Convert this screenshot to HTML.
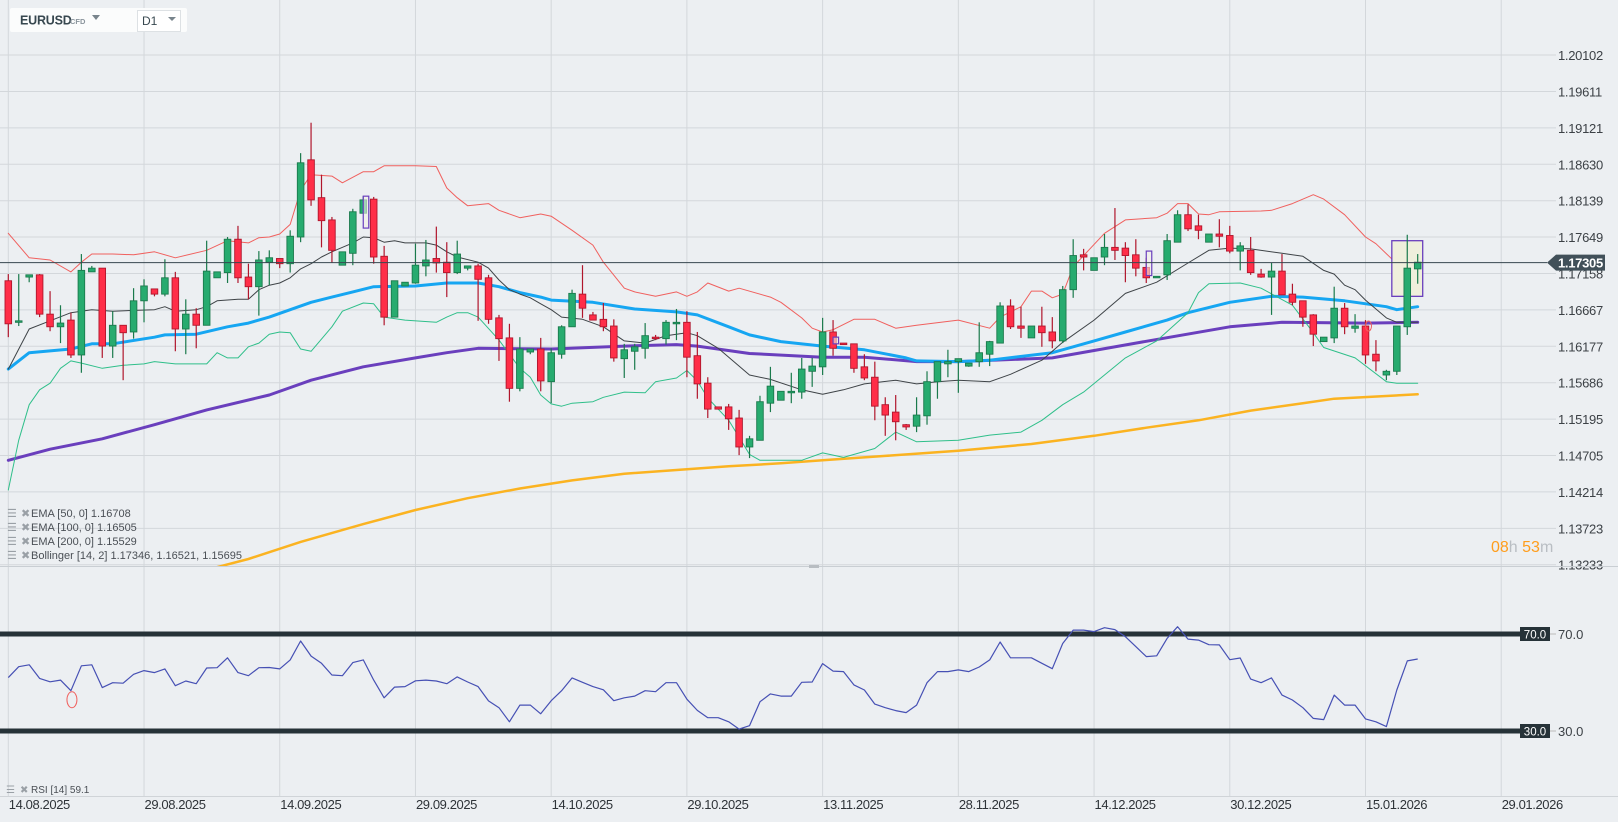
<!DOCTYPE html>
<html><head><meta charset="utf-8"><title>EURUSD D1</title>
<style>
html,body{margin:0;padding:0;background:#eceff2;overflow:hidden}
svg{display:block;font-family:"Liberation Sans",sans-serif}
</style></head>
<body>
<svg id="chart" width="1618" height="822" viewBox="0 0 1618 822" xmlns="http://www.w3.org/2000/svg">
<defs><clipPath id="pclip"><rect x="0" y="0" width="1545" height="566"/></clipPath></defs>
<rect x="0" y="0" width="1618" height="822" fill="#eceff2"/>
<g id="grid"></g>
<g id="price-pane" clip-path="url(#pclip)"></g>
<g id="rsi-pane"></g>
<g id="axes"></g>
<g>
  <rect x="10" y="8" width="177" height="24" rx="2" fill="#fbfcfc"/>
  <text x="20" y="24.5" font-size="12.5" font-weight="bold" fill="#37474f" letter-spacing="-0.2">EURUSD</text>
  <text x="70" y="24" font-size="7.5" font-weight="bold" fill="#8a949c">CFD</text>
  <path d="M92,15 L100,15 L96,20 Z" fill="#78848c"/>
</g>
<g>
  <rect x="137.5" y="10.5" width="43" height="21" fill="#fff" stroke="#dde1e4"/>
  <text x="142" y="25" font-size="12" fill="#37474f">D1</text>
  <path d="M168,17 L176,17 L172,21 Z" fill="#78848c"/>
</g>
<g font-size="11" fill="#4a4f55">
  <g><text x="7" y="517" fill="#9aa0a6" font-size="11">☰</text><text x="21" y="517" fill="#9aa0a6" font-size="11">✖</text><text x="31" y="517">EMA  [50,  0]  1.16708</text></g>
  <g><text x="7" y="531" fill="#9aa0a6" font-size="11">☰</text><text x="21" y="531" fill="#9aa0a6" font-size="11">✖</text><text x="31" y="531">EMA  [100,  0]  1.16505</text></g>
  <g><text x="7" y="545" fill="#9aa0a6" font-size="11">☰</text><text x="21" y="545" fill="#9aa0a6" font-size="11">✖</text><text x="31" y="545">EMA  [200,  0]  1.15529</text></g>
  <g><text x="7" y="559" fill="#9aa0a6" font-size="11">☰</text><text x="21" y="559" fill="#9aa0a6" font-size="11">✖</text><text x="31" y="559">Bollinger   [14,  2]  1.17346,   1.16521,   1.15695</text></g>
  <g><text x="6" y="793" fill="#9aa0a6" font-size="10">☰</text><text x="20" y="793" fill="#9aa0a6" font-size="10">✖</text><text x="31" y="793" font-size="10">RSI  [14]  59.1</text></g>
</g>
<g font-size="16">
  <text x="1491" y="552"><tspan fill="#ff9d1c">08</tspan><tspan fill="#b9bec3">h </tspan><tspan fill="#ff9d1c">53</tspan><tspan fill="#b9bec3">m</tspan></text>
</g>
</svg>
<script>
const candles = [
[1.1706,1.1715,1.1630,1.1648],[1.1650,1.1715,1.1645,1.1652],[1.1711,1.1714,1.1704,1.1714],[1.1714,1.1715,1.1657,1.1661],
[1.1661,1.1692,1.1638,1.1644],[1.1644,1.1673,1.1622,1.1649],[1.1653,1.1663,1.1602,1.1606],[1.1606,1.1742,1.1582,1.1720],
[1.1718,1.1726,1.1718,1.1723],[1.1723,1.1723,1.1602,1.1618],[1.1618,1.1665,1.1602,1.1646],[1.1646,1.1646,1.1572,1.1636],
[1.1637,1.1696,1.1628,1.1679],[1.1679,1.1708,1.1650,1.1699],[1.1695,1.1695,1.1685,1.1688],[1.1688,1.1735,1.1685,1.1710],
[1.1710,1.1718,1.1611,1.1641],[1.1641,1.1681,1.1607,1.1661],[1.1661,1.1669,1.1615,1.1646],[1.1646,1.1760,1.1646,1.1719],
[1.1710,1.1718,1.1710,1.1718],[1.1717,1.1765,1.1703,1.1762],[1.1762,1.1780,1.1703,1.1710],[1.1711,1.1729,1.1681,1.1698],
[1.1698,1.1746,1.1659,1.1734],[1.1731,1.1747,1.1700,1.1737],[1.1736,1.1736,1.1723,1.1729],[1.1729,1.1774,1.1717,1.1766],
[1.1765,1.1878,1.1758,1.1865],[1.1869,1.1919,1.1807,1.1815],[1.1818,1.1849,1.1751,1.1787],[1.1788,1.1792,1.1730,1.1747],
[1.1727,1.1745,1.1727,1.1745],[1.1743,1.1803,1.1727,1.1799],[1.1797,1.1820,1.1797,1.1815],[1.1816,1.1819,1.1729,1.1738],
[1.1739,1.1753,1.1646,1.1657],[1.1657,1.1706,1.1657,1.1706],[1.1699,1.1704,1.1699,1.1704],[1.1703,1.1756,1.1702,1.1727],
[1.1726,1.1761,1.1712,1.1734],[1.1736,1.1779,1.1717,1.1730],[1.1731,1.1758,1.1684,1.1717],[1.1717,1.1760,1.1715,1.1742],
[1.1723,1.1726,1.1720,1.1726],[1.1726,1.1729,1.1652,1.1708],[1.1710,1.1714,1.1648,1.1654],[1.1656,1.1660,1.1598,1.1628],
[1.1629,1.1648,1.1543,1.1561],[1.1561,1.1630,1.1557,1.1614],[1.1610,1.1614,1.1607,1.1614],[1.1614,1.1629,1.1557,1.1571],
[1.1570,1.1615,1.1541,1.1609],[1.1607,1.1646,1.1601,1.1644],[1.1644,1.1694,1.1644,1.1689],[1.1688,1.1727,1.1656,1.1669],
[1.1660,1.1664,1.1653,1.1653],[1.1654,1.1676,1.1638,1.1644],[1.1645,1.1654,1.1597,1.1602],[1.1601,1.1621,1.1575,1.1613],
[1.1611,1.1621,1.1586,1.1617],[1.1615,1.1649,1.1601,1.1632],[1.1630,1.1633,1.1626,1.1628],[1.1628,1.1653,1.1620,1.1650],
[1.1648,1.1668,1.1626,1.1650],[1.1650,1.1665,1.1576,1.1603],[1.1605,1.1637,1.1547,1.1567],[1.1568,1.1576,1.1521,1.1533],
[1.1536,1.1536,1.1533,1.1533],[1.1536,1.1540,1.1505,1.1520],[1.1521,1.1532,1.1471,1.1482],[1.1482,1.1497,1.1467,1.1493],
[1.1491,1.1551,1.1491,1.1543],[1.1541,1.1590,1.1529,1.1564],[1.1545,1.1557,1.1545,1.1557],[1.1555,1.1582,1.1541,1.1557],
[1.1556,1.1602,1.1547,1.1587],[1.1584,1.1602,1.1563,1.1591],[1.1590,1.1656,1.1579,1.1637],[1.1637,1.1653,1.1605,1.1615],
[1.1622,1.1622,1.1620,1.1620],[1.1621,1.1621,1.1582,1.1588],[1.1590,1.1607,1.1572,1.1575],[1.1576,1.1597,1.1518,1.1537],
[1.1539,1.1549,1.1497,1.1525],[1.1529,1.1552,1.1491,1.1516],[1.1512,1.1513,1.1505,1.1509],[1.1510,1.1549,1.1502,1.1525],
[1.1524,1.1584,1.1512,1.1570],[1.1570,1.1597,1.1547,1.1597],[1.1594,1.1613,1.1576,1.1597],[1.1597,1.1601,1.1555,1.1601],
[1.1591,1.1595,1.1590,1.1595],[1.1597,1.1650,1.1590,1.1609],[1.1607,1.1625,1.1591,1.1624],[1.1622,1.1677,1.1622,1.1672],
[1.1672,1.1681,1.1641,1.1644],[1.1645,1.1671,1.1629,1.1642],[1.1629,1.1645,1.1629,1.1645],[1.1645,1.1671,1.1617,1.1636],
[1.1637,1.1657,1.1615,1.1625],[1.1625,1.1699,1.1622,1.1694],[1.1694,1.1762,1.1683,1.1740],[1.1741,1.1749,1.1720,1.1738],
[1.1720,1.1737,1.1720,1.1737],[1.1738,1.1769,1.1727,1.1751],[1.1751,1.1804,1.1734,1.1747],[1.1750,1.1758,1.1704,1.1740],
[1.1741,1.1762,1.1712,1.1723],[1.1724,1.1737,1.1703,1.1710],[1.1710,1.1712,1.1710,1.1712],[1.1714,1.1769,1.1707,1.1760],
[1.1758,1.1801,1.1758,1.1795],[1.1795,1.1809,1.1773,1.1776],[1.1780,1.1795,1.1762,1.1774],[1.1758,1.1769,1.1758,1.1769],
[1.1769,1.1789,1.1751,1.1766],[1.1767,1.1780,1.1743,1.1746],[1.1746,1.1758,1.1720,1.1753],[1.1747,1.1765,1.1714,1.1717],
[1.1715,1.1722,1.1710,1.1711],[1.1711,1.1730,1.1660,1.1719],[1.1719,1.1742,1.1687,1.1687],[1.1688,1.1702,1.1673,1.1677],
[1.1679,1.1679,1.1644,1.1657],[1.1660,1.1661,1.1618,1.1634],[1.1624,1.1630,1.1624,1.1630],[1.1629,1.1698,1.1622,1.1669],
[1.1669,1.1676,1.1634,1.1644],[1.1642,1.1661,1.1636,1.1645],[1.1645,1.1653,1.1594,1.1606],[1.1607,1.1626,1.1584,1.1598],
[1.1579,1.1586,1.1572,1.1584],[1.1584,1.1645,1.1579,1.1645],[1.1644,1.1768,1.1633,1.1723],[1.1722,1.1742,1.1702,1.1731]
];
const bbUpper = [[1,1.1770],[3,1.1737],[5,1.1734],[7,1.1718],[8,1.1731],[9,1.1742],[11,1.1742],[13,1.1741],[15,1.1745],[17,1.1737],[20,1.1747],[22,1.1760],[24,1.1757],[25,1.1764],[26,1.1765],[27,1.1769],[28,1.1782],[29,1.1828],[30,1.1849],[32,1.1847],[33,1.1838],[35,1.1853],[36,1.1853],[37,1.1861],[40,1.1861],[42,1.1860],[43,1.1831],[44,1.1818],[45,1.1807],[47,1.1810],[48,1.1801],[50,1.1791],[52,1.1796],[53,1.1793],[55,1.1774],[57,1.1754],[58,1.1731],[60,1.1696],[61,1.1691],[63,1.1685],[65,1.1691],[66,1.1685],[67,1.1691],[68,1.1703],[70,1.1692],[71,1.1696],[74,1.1684],[75,1.1677],[77,1.1656],[78,1.1642],[79,1.1637],[80,1.1640],[82,1.1654],[84,1.1654],[86,1.1642],[88,1.1646],[92,1.1653],[95,1.1642],[96,1.1657],[98,1.1671],[99,1.1692],[100,1.1692],[101,1.1683],[102,1.1688],[103,1.1725],[106,1.1770],[108,1.1788],[111,1.1791],[112,1.1797],[113,1.1810],[114,1.1810],[115,1.1796],[116,1.1795],[117,1.1799],[121,1.1800],[122,1.1801],[124,1.1810],[126,1.1822],[127,1.1816],[129,1.1795],[131,1.1765],[132,1.1756],[134,1.1729],[135,1.1730],[136,1.1734]];
const bbMiddle = [[1,1.1587],[3,1.1641],[5,1.1652],[7,1.1663],[9,1.1667],[11,1.1665],[15,1.1667],[16,1.1671],[17,1.1665],[19,1.1667],[20,1.1671],[21,1.1679],[23,1.1681],[24,1.1681],[25,1.1694],[26,1.1700],[27,1.1703],[28,1.1710],[29,1.1722],[30,1.1729],[31,1.1738],[32,1.1745],[34,1.1757],[35,1.1765],[36,1.1764],[37,1.1758],[38,1.1760],[39,1.1757],[41,1.1757],[42,1.1754],[43,1.1745],[44,1.1738],[46,1.1731],[47,1.1723],[48,1.1707],[49,1.1694],[50,1.1688],[51,1.1683],[52,1.1675],[53,1.1667],[54,1.1657],[56,1.1654],[58,1.1644],[60,1.1625],[62,1.1622],[64,1.1632],[66,1.1636],[67,1.1632],[69,1.1615],[72,1.1579],[74,1.1573],[77,1.1559],[79,1.1553],[81,1.1559],[83,1.1567],[86,1.1572],[88,1.1567],[90,1.1570],[92,1.1572],[95,1.1570],[97,1.1580],[100,1.1599],[102,1.1623],[105,1.1653],[108,1.1689],[111,1.1704],[114,1.1730],[116,1.1747],[118,1.1750],[120,1.1749],[123,1.1743],[125,1.1739],[127,1.1720],[128,1.1715],[129,1.1700],[130,1.1694],[131,1.1680],[133,1.1656],[134,1.1650],[136,1.1650]];
const bbLower = [[1,1.1424],[2,1.1491],[3,1.1539],[4,1.1559],[5,1.1568],[6,1.1588],[7,1.1598],[8,1.1595],[10,1.1588],[12,1.1592],[14,1.1594],[15,1.1597],[17,1.1594],[20,1.1594],[21,1.1609],[22,1.1602],[23,1.1602],[24,1.1617],[25,1.1622],[26,1.1634],[27,1.1637],[28,1.1636],[29,1.1614],[30,1.1611],[32,1.1644],[33,1.1665],[35,1.1676],[36,1.1675],[37,1.1657],[39,1.1653],[42,1.1650],[43,1.1657],[44,1.1663],[45,1.1663],[46,1.1657],[48,1.1626],[50,1.1588],[51,1.1576],[52,1.1552],[53,1.1540],[54,1.1537],[55,1.1541],[57,1.1543],[58,1.1549],[60,1.1556],[62,1.1555],[63,1.1570],[65,1.1575],[66,1.1585],[67,1.1571],[68,1.1548],[70,1.1518],[71,1.1495],[72,1.1472],[73,1.1464],[77,1.1464],[79,1.1474],[81,1.1468],[84,1.1480],[86,1.1502],[88,1.1489],[92,1.1491],[95,1.1498],[98,1.1502],[100,1.1518],[102,1.1539],[104,1.1556],[106,1.1579],[108,1.1602],[111,1.1625],[114,1.1663],[115,1.1690],[116,1.1702],[119,1.1703],[121,1.1696],[124,1.1673],[126,1.1636],[127,1.1616],[130,1.1602],[133,1.1570],[134,1.1568],[136,1.1568]];
const ema50 = [[1,1.1587],[3,1.1609],[7,1.1614],[9,1.1621],[11,1.1621],[15,1.1630],[16,1.1633],[19,1.1634],[22,1.1644],[24,1.1649],[26,1.1657],[28,1.1667],[30,1.1677],[32,1.1684],[34,1.1691],[36,1.1698],[40,1.1699],[43,1.1703],[46,1.1703],[48,1.1698],[50,1.1690],[52,1.1684],[53,1.1680],[57,1.1677],[61,1.1668],[65,1.1664],[67,1.1660],[70,1.1644],[72,1.1633],[75,1.1624],[79,1.1618],[83,1.1613],[87,1.1602],[88,1.1598],[92,1.1597],[95,1.1599],[101,1.1609],[105,1.1625],[108,1.1637],[112,1.1653],[114,1.1663],[118,1.1677],[122,1.1685],[125,1.1684],[129,1.1679],[133,1.1671],[134,1.1667],[136,1.1671]];
const ema100 = [[1,1.1464],[5,1.1479],[10,1.1493],[15,1.1512],[20,1.1532],[26,1.1552],[30,1.1572],[35,1.1590],[40,1.1602],[43,1.1609],[46,1.1615],[53,1.1614],[60,1.1618],[65,1.1620],[67,1.1618],[72,1.1608],[79,1.1603],[83,1.1603],[88,1.1597],[92,1.1597],[101,1.1602],[109,1.1622],[118,1.1644],[123,1.1650],[131,1.1649],[136,1.1650]];
const ema200 = [[18,1.1309],[24,1.1331],[29,1.1354],[35,1.1378],[40,1.1397],[45,1.1413],[50,1.1426],[55,1.1437],[60,1.1446],[65,1.1451],[70,1.1456],[75,1.1460],[79,1.1464],[85,1.1470],[92,1.1477],[99,1.1486],[105,1.1497],[110,1.1508],[115,1.1518],[120,1.1531],[125,1.1541],[128,1.1547],[136,1.1553]];
const rsiValues = [52.0,56.5,57.3,51.7,50.3,51.0,46.6,56.9,57.3,47.9,49.9,49.7,53.4,54.9,54.1,55.6,48.7,50.6,49.5,56.0,56.1,60.2,54.1,52.8,56.1,56.2,55.6,59.3,67.1,60.9,57.9,53.1,52.8,58.2,59.3,51.0,43.7,48.1,48.3,50.7,51.0,50.6,49.5,52.3,50.2,48.3,42.4,39.6,33.8,40.7,40.7,37.1,42.5,46.6,51.9,50.1,48.3,47.0,42.5,43.7,44.4,46.6,46.2,49.9,49.9,43.1,38.5,35.5,35.5,
33.8,30.8,32.2,42.1,45.3,44.4,44.4,50.1,50.2,57.8,54.7,54.5,49.0,46.9,41.1,39.6,38.4,37.6,40.7,49.9,54.5,54.5,55.2,54.5,56.4,59.3,66.7,60.2,60.2,60.2,57.9,55.7,66.1,71.6,71.6,71.0,72.6,71.8,68.9,64.8,60.7,61.0,68.2,73.0,67.9,67.5,65.6,65.5,59.4,60.1,51.4,49.9,51.9,44.8,42.8,39.6,35.2,34.7,44.8,40.7,40.7,35.0,33.8,31.8,46.9,58.9,59.7];
const priceTicks = [1.20102,1.19611,1.19121,1.18630,1.18139,1.17649,1.17158,1.16667,1.16177,1.15686,1.15195,1.14705,1.14214,1.13723,1.13233];
const priceTickLabels = ['1.20102','1.19611','1.19121','1.18630','1.18139','1.17649','1.17158','1.16667','1.16177','1.15686','1.15195','1.14705','1.14214','1.13723','1.13233'];
const dateLabels = ['14.08.2025','29.08.2025','14.09.2025','29.09.2025','14.10.2025','29.10.2025','13.11.2025','28.11.2025','14.12.2025','30.12.2025','15.01.2026','29.01.2026'];
const dateCandleStep = [13];
const lastPrice = [1.17305];
const rsiLevels = [70, 30];
const eventMarkers = [[35,1.1820,1.1777],[80,1.1630,1.1621],[110,1.1746,1.1713]];
const highlightBox = [[134,136,1.1760,1.1685]];

const NS='http://www.w3.org/2000/svg';
function xAt(idx){return 8.3+(idx-1)*10.44;}
function yP(p){return 200.7+(1.18139-p)*7420;}
function yR(v){return 634+(70-v)*2.425;}
function mk(tag,attrs,parent){const e=document.createElementNS(NS,tag);for(const k in attrs)e.setAttribute(k,attrs[k]);parent.appendChild(e);return e;}

const grid=document.getElementById('grid');
const pp=document.getElementById('price-pane');
const rp=document.getElementById('rsi-pane');
const ax=document.getElementById('axes');

priceTicks.forEach((p,i)=>{
  const y=yP(p);
  const l=mk('line',{x1:0,x2:1556,y1:y,y2:y,stroke:'#d3d7db','stroke-width':1},grid);
  
  
  const t=mk('text',{x:1558,y:y+5,'font-size':13,fill:'#3c4146','letter-spacing':'-0.3'},ax);
  t.textContent=priceTickLabels[i];
  
  
});
dateLabels.forEach((d,k)=>{
  const x=xAt(1+k*dateCandleStep[0]);
  const l=mk('line',{x1:x,x2:x,y1:0,y2:796,stroke:'#d3d7db','stroke-width':1},grid);
  
  
  const t=mk('text',{x:x+0.5,y:809,'font-size':13,fill:'#2e3338','letter-spacing':'-0.4'},ax);
  t.textContent=d;
  
  
});
const sep1=mk('line',{x1:0,x2:1618,y1:566.5,y2:566.5,stroke:'#c9ced3','stroke-width':1},ax);


const hnd=mk('rect',{x:809,y:565,width:10,height:3,fill:'#b8bdc2'},ax);


const sep2=mk('line',{x1:0,x2:1618,y1:796.5,y2:796.5,stroke:'#d0d4d8','stroke-width':1},ax);



function poly(arr,color,w,name){
  const pts=arr.map(a=>xAt(a[0]).toFixed(1)+','+yP(a[1]).toFixed(1)).join(' ');
  const e=mk('polyline',{points:pts,fill:'none',stroke:color,'stroke-width':w,'stroke-linejoin':'round','stroke-linecap':'round'},pp);
  
  
}
poly(ema200,'#fbb321',2.5,'ema200-line');
poly(ema100,'#6a3fbd',3,'ema100-line');
poly(ema50,'#16a6f2',3,'ema50-line');
poly(bbUpper,'#f0605e',1,'bollinger-upper');
poly(bbLower,'#2fbf8a',1,'bollinger-lower');
poly(bbMiddle,'#3e4347',1,'bollinger-middle');

highlightBox.forEach(b=>{
  const x1=xAt(b[0])-5,x2=xAt(b[1])+5;
  const r=mk('rect',{x:x1,y:yP(b[2]),width:x2-x1,height:yP(b[3])-yP(b[2]),fill:'#efefdc',stroke:'#6a3fbd','stroke-width':1.3},pp);
  
  
});

candles.forEach((c,i)=>{
  const [o,h,l,cl]=c;
  const up=cl>=o;
  const x=xAt(i+1);
  const fill=up?'#27ab6f':'#ff2e48', edge=up?'#1a7a4c':'#b0162c';
  const g=mk('g',{},pp);
  
  
  mk('line',{x1:x,x2:x,y1:yP(h),y2:yP(l),stroke:edge,'stroke-width':1.2},g);
  const yt=yP(Math.max(o,cl)), yb=yP(Math.min(o,cl));
  mk('rect',{x:x-3.3,y:yt,width:6.6,height:Math.max(1.5,yb-yt),fill:fill,stroke:edge,'stroke-width':0.9},g);
});

eventMarkers.forEach(m=>{
  const x=xAt(m[0]);
  const r=mk('rect',{x:x,y:yP(m[1]),width:5.5,height:yP(m[2])-yP(m[1]),fill:'#f3efe6','fill-opacity':0.6,stroke:'#6a3fbd','stroke-width':1.2},pp);
  
  
});
const rc=mk('ellipse',{cx:xAt(131)+3,cy:yP(1.1645),rx:3,ry:5,fill:'none',stroke:'#f0605e','stroke-width':1},pp);



const ly=yP(lastPrice[0]);
const lpl=mk('line',{x1:0,x2:1547,y1:ly,y2:ly,stroke:'#37474f','stroke-width':1},ax);


const tag=mk('path',{d:`M1547,${ly} L1556,${ly-8} L1605,${ly-8} L1605,${ly+8} L1556,${ly+8} Z`,fill:'#415059'},ax);


const tt=mk('text',{x:1558,y:ly+5,'font-size':13,'font-weight':'bold',fill:'#fff','letter-spacing':'-0.3'},ax);
tt.textContent=lastPrice[0].toFixed(5);



rsiLevels.forEach(v=>{
  const y=yR(v);
  const l=mk('rect',{x:0,y:y-2.5,width:1521,height:5,fill:'#263238'},rp);
  
  
  const b=mk('rect',{x:1520,y:y-7,width:30,height:14,fill:'#263238'},rp);
  
  
  const bt=mk('text',{x:1535,y:y+4.5,'font-size':11.5,fill:'#fff','text-anchor':'middle'},rp);
  bt.textContent=v.toFixed(1);
  
  
  const tk=mk('line',{x1:1550,x2:1556,y1:y,y2:y,stroke:'#bbb'},rp);
  
  
  const t=mk('text',{x:1558,y:y+5,'font-size':13,fill:'#3c4146'},rp);
  t.textContent=v.toFixed(1);
  
  
});
const rpts=rsiValues.map((v,i)=>xAt(i+1).toFixed(1)+','+yR(v).toFixed(1)).join(' ');
const rl=mk('polyline',{points:rpts,fill:'none',stroke:'#4650b4','stroke-width':1.2,'stroke-linejoin':'round'},rp);


const re=mk('ellipse',{cx:xAt(7)+1,cy:yR(rsiValues[6])+9,rx:5,ry:8,fill:'none',stroke:'#f0605e','stroke-width':1},rp);


</script>
</body></html>
